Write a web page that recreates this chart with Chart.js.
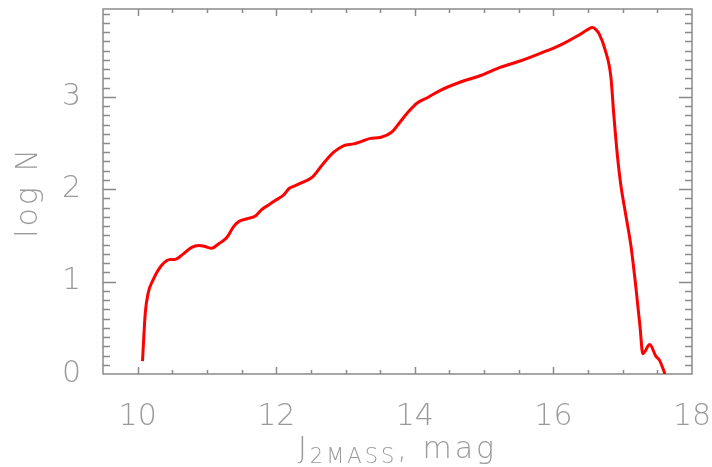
<!DOCTYPE html>
<html>
<head>
<meta charset="utf-8">
<script src="https://cdn.jsdelivr.net/npm/chart.js@4/dist/chart.umd.min.js"></script>
<style>
  html, body { margin: 0; padding: 0; background: #fff; }
  #wrap { width: 712px; height: 467px; }
</style>
</head>
<body>
<div id="wrap"><canvas id="lf"></canvas></div>
<script>
// J magnitude vs log N
const jMag = [10.07, 10.11, 10.15, 10.23, 10.35, 10.47, 10.54, 10.66, 10.78, 10.88,
  10.97, 11.07, 11.17, 11.29, 11.38, 11.46, 11.58, 11.70, 11.79, 11.89,
  11.99, 12.11, 12.19, 12.25, 12.37, 12.52, 12.66, 12.83, 12.97, 13.12,
  13.24, 13.36, 13.50, 13.67, 13.79, 13.91, 14.03, 14.18, 14.37, 14.66,
  14.95, 15.24, 15.53, 15.81, 16.10, 16.35, 16.50, 16.56, 16.61, 16.66,
  16.75, 16.83, 16.87, 16.92, 16.97, 17.04, 17.12, 17.19, 17.25, 17.29,
  17.39, 17.48, 17.53, 17.61];
const logN = [0.14, 0.66, 0.87, 1.03, 1.18, 1.24, 1.24, 1.30, 1.37, 1.39,
  1.38, 1.36, 1.41, 1.48, 1.59, 1.65, 1.68, 1.71, 1.78, 1.83,
  1.88, 1.94, 2.01, 2.03, 2.07, 2.13, 2.26, 2.40, 2.47, 2.49,
  2.52, 2.55, 2.56, 2.62, 2.73, 2.84, 2.93, 2.99, 3.07, 3.16,
  3.23, 3.32, 3.39, 3.47, 3.56, 3.66, 3.73, 3.75, 3.73, 3.68,
  3.50, 3.21, 2.82, 2.39, 2.06, 1.74, 1.38, 0.94, 0.51, 0.22,
  0.32, 0.19, 0.15, 0.0];

const xTicks = [10, 12, 14, 16, 18];
const yTicks = [0, 1, 2, 3];
const xMinorStep = 0.5;
const yMinorStep = 0.1;

const axisGrey = "#8a8a8a";
const textGrey = "#9a9a9a";
const fontFamily = "'DejaVu Sans', sans-serif";

const isMajor = (list, v) => list.some(t => Math.abs(t - v) < 1e-6);

// fixed axis sizes, no extra label overhang padding
function fitAxis(size) {
  return s => {
    if (s.isHorizontal()) s.height = size; else s.width = size;
    s.paddingTop = s.paddingBottom = s.paddingLeft = s.paddingRight = 0;
  };
}

// box round the plot with inward ticks, like the IDL original
const frame = {
  id: "frame",
  beforeDatasetsDraw(chart) {
    const { ctx, chartArea: a, scales: { x, y } } = chart;
    ctx.save();
    ctx.strokeStyle = axisGrey;
    ctx.lineWidth = 1.5;
    ctx.strokeRect(a.left, a.top, a.right - a.left, a.bottom - a.top);
    ctx.beginPath();
    const nx = Math.round((x.max - x.min) / xMinorStep);
    for (let i = 1; i < nx; i++) {
      const v = x.min + i * xMinorStep;
      const px = Math.round(x.getPixelForValue(v)) + 0.5;
      const len = isMajor(xTicks, v) ? 7 : 4;
      ctx.moveTo(px, a.bottom); ctx.lineTo(px, a.bottom - len);
      ctx.moveTo(px, a.top); ctx.lineTo(px, a.top + len);
    }
    const ny = Math.floor((y.max - y.min) / yMinorStep + 1e-6);
    for (let i = 1; i <= ny; i++) {
      const v = y.min + i * yMinorStep;
      const py = Math.round(y.getPixelForValue(v)) + 0.5;
      const len = isMajor(yTicks, v) ? 13 : 7;
      ctx.moveTo(a.left, py); ctx.lineTo(a.left + len, py);
      ctx.moveTo(a.right, py); ctx.lineTo(a.right - len, py);
    }
    ctx.stroke();
    ctx.restore();
  },
  afterDraw(chart) {
    const { ctx, chartArea: a } = chart;
    ctx.save();
    ctx.fillStyle = textGrey;
    ctx.letterSpacing = "3px";
    // y title
    ctx.font = `200 30px ${fontFamily}`;
    ctx.translate(37, 192);
    ctx.rotate(-Math.PI / 2);
    ctx.textAlign = "center";
    ctx.textBaseline = "alphabetic";
    ctx.fillText("log N", 0, 0);
    ctx.setTransform(1, 0, 0, 1, 0, 0);
    // x title with subscript
    ctx.textAlign = "left";
    const big = `200 30px ${fontFamily}`;
    const small = `200 21px ${fontFamily}`;
    ctx.font = big;
    const w1 = ctx.measureText("J").width;
    const w3 = ctx.measureText(", mag").width;
    ctx.font = small;
    const w2 = ctx.measureText("2MASS").width;
    let xx = (a.left + a.right) / 2 - (w1 + w2 + w3) / 2;
    const base = 458;
    ctx.font = big;
    ctx.fillText("J", xx, base); xx += w1;
    ctx.font = small;
    ctx.fillText("2MASS", xx, base + 5); xx += w2;
    ctx.font = big;
    ctx.fillText(", mag", xx, base);
    ctx.restore();
  }
};

const tickFont = { family: fontFamily, size: 30, weight: 200 };

new Chart(document.getElementById("lf"), {
  type: "line",
  data: {
    datasets: [{
      data: jMag.map((v, i) => ({ x: v, y: logN[i] })),
      borderColor: "#ff0000",
      borderWidth: 3,
      pointRadius: 0,
      fill: false,
      cubicInterpolationMode: "monotone",
    }],
  },
  options: {
    responsive: true,
    maintainAspectRatio: false,
    animation: false,
    layout: { padding: { left: 0, right: 20, top: 9, bottom: 0 } },
    plugins: { legend: { display: false }, tooltip: { enabled: false } },
    scales: {
      x: {
        type: "linear",
        min: 9.5,
        max: 18,
        afterBuildTicks: s => { s.ticks = xTicks.map(v => ({ value: v })); },
        afterFit: fitAxis(93),
        ticks: { font: tickFont, color: textGrey, padding: 17, maxRotation: 0, autoSkip: false },
        grid: { display: false },
        border: { display: false },
      },
      y: {
        min: 0,
        max: 3.95,
        afterBuildTicks: s => { s.ticks = yTicks.map(v => ({ value: v })); },
        afterFit: fitAxis(103),
        ticks: { font: tickFont, color: textGrey, padding: 14 },
        grid: { display: false },
        border: { display: false },
      },
    },
  },
  plugins: [frame],
});
</script>
</body>
</html>
